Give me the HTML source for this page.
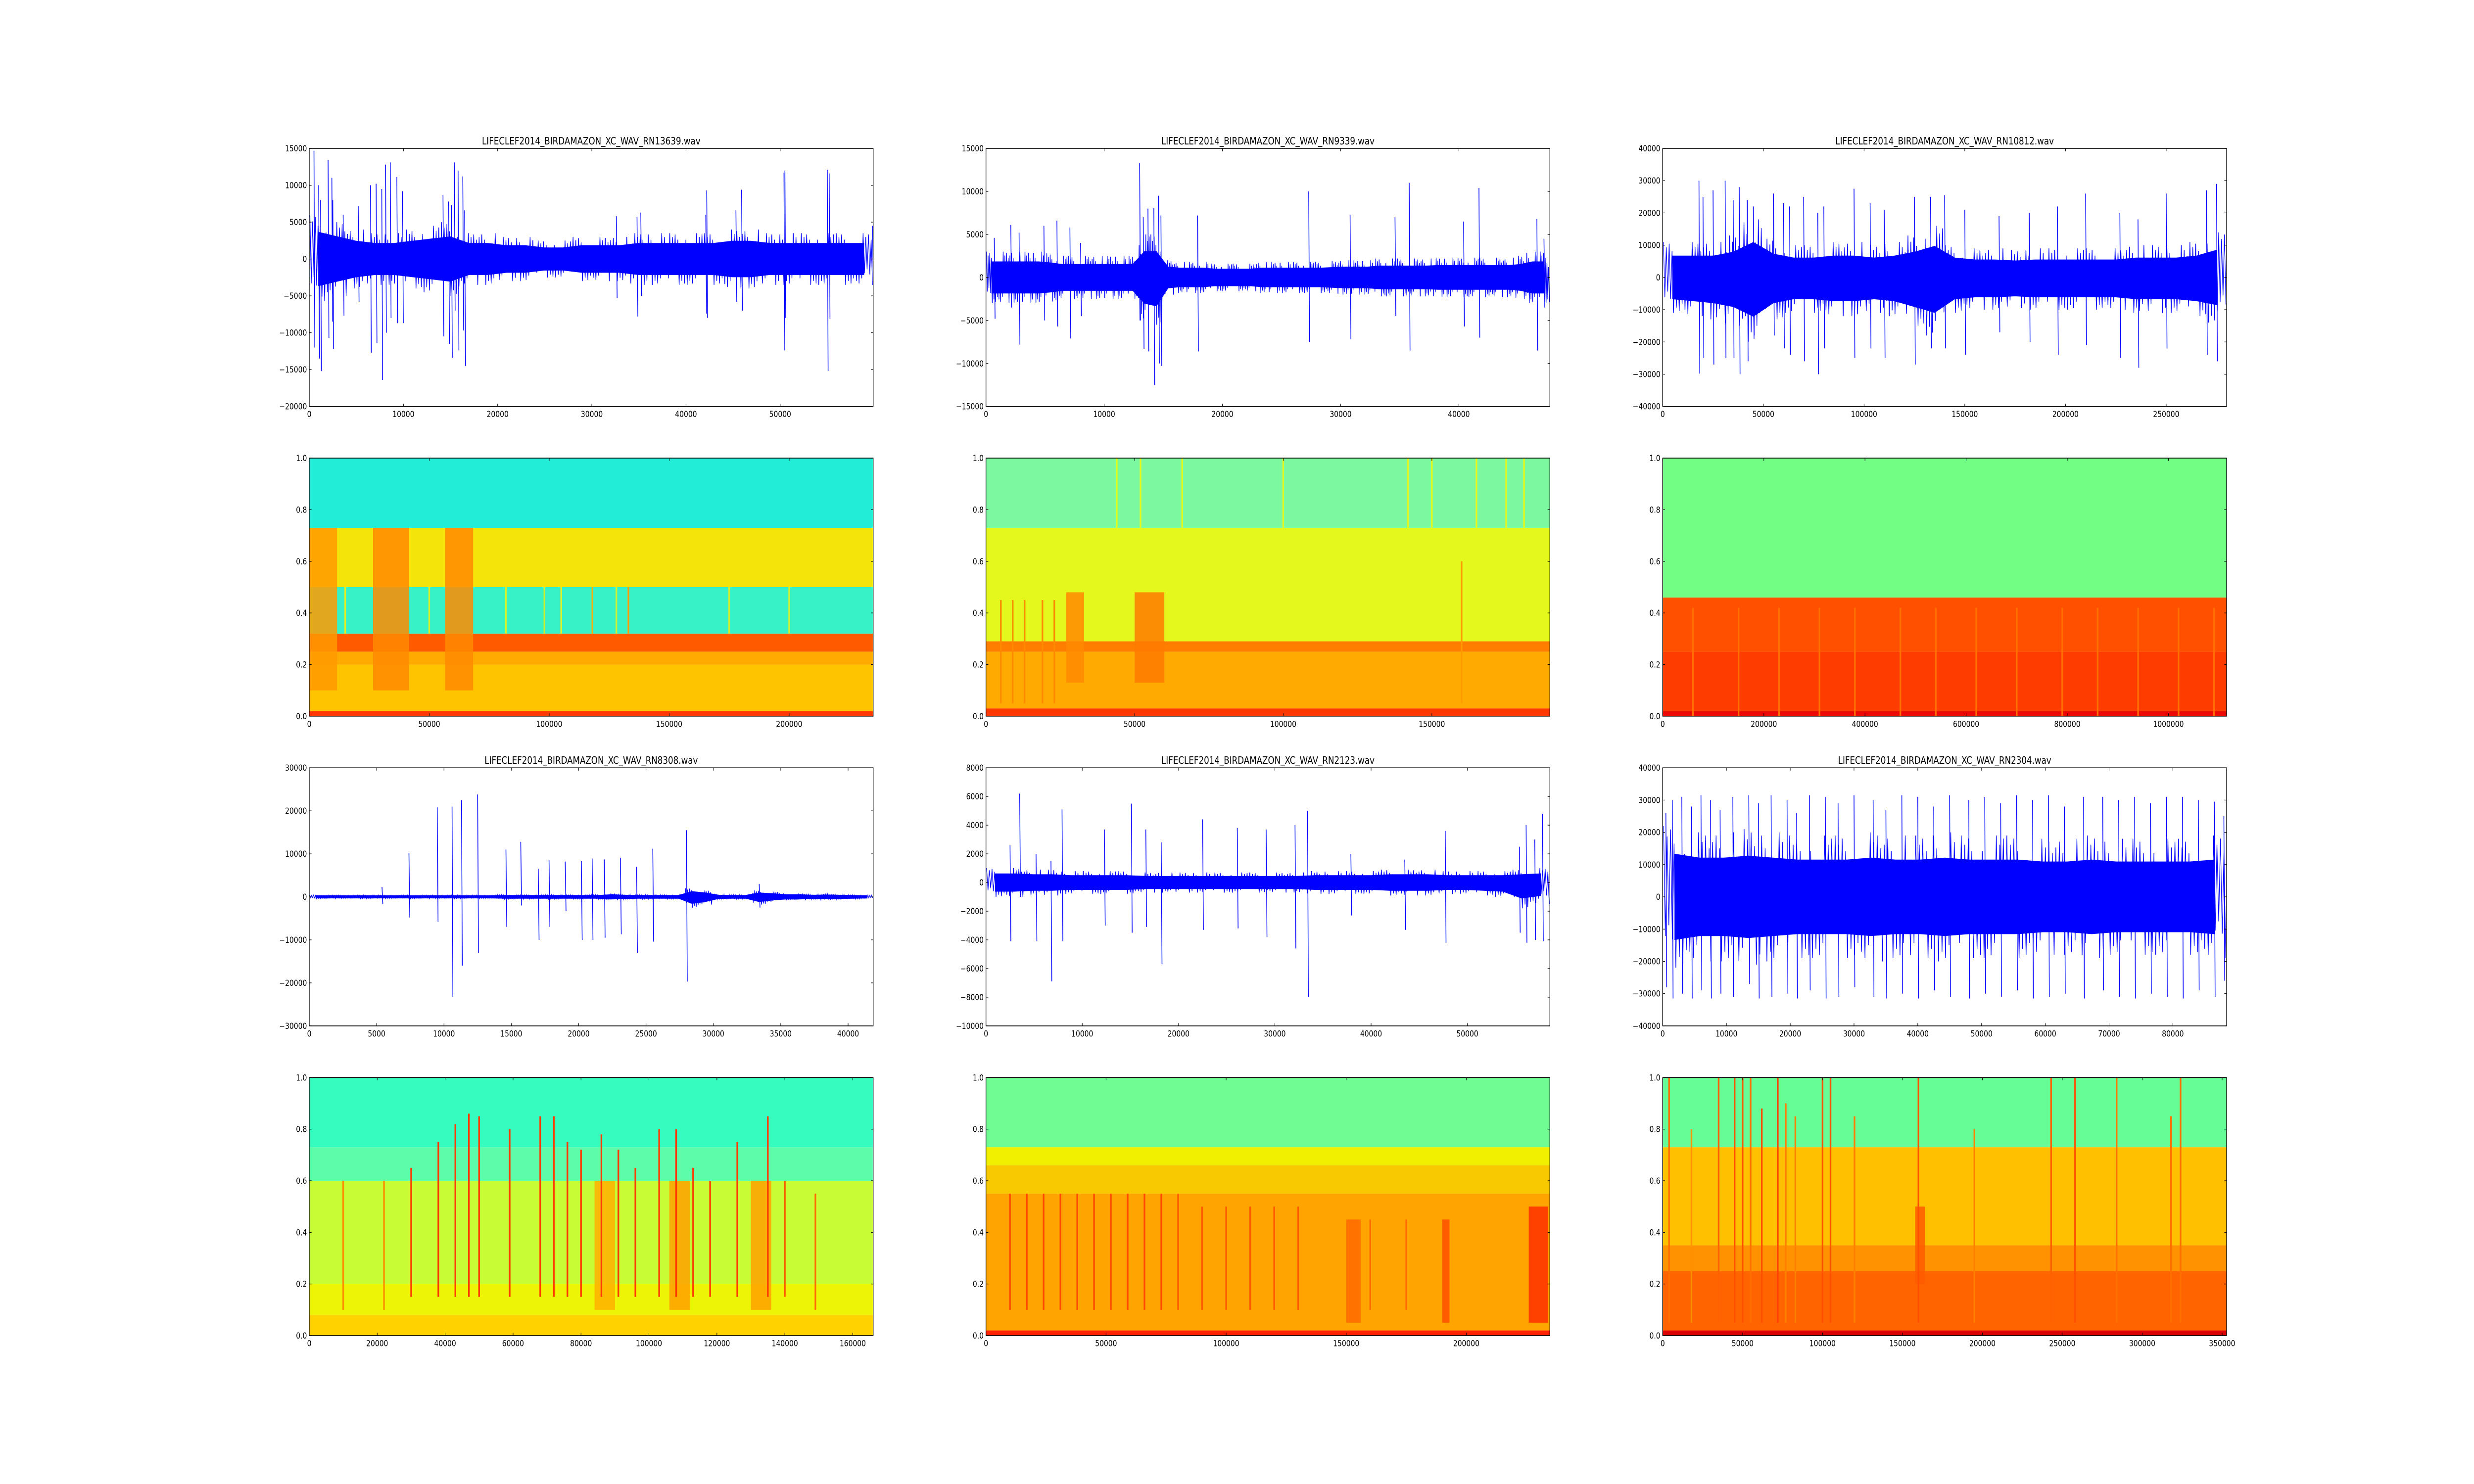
<!DOCTYPE html>
<html><head><meta charset="utf-8">
<style>
html,body{margin:0;padding:0;background:#fff;width:100%;height:100%;overflow:hidden;}
svg{display:block;position:absolute;left:0;top:0;width:100vw;height:100vh;font-family:"DejaVu Sans","Liberation Sans",sans-serif;}
</style></head>
<body>
<svg id="fig" viewBox="0 0 6000 3000" preserveAspectRatio="none" xmlns="http://www.w3.org/2000/svg">
<rect x="0" y="0" width="6000" height="3000" fill="#ffffff"/>
</svg>
<script>
// ---------- waveform data ----------
const p1Title = "LIFECLEF2014_BIRDAMAZON_XC_WAV_RN13639.wav";
const p1XMax = 59870, p1YMin = -20000, p1YMax = 15000;
const p1XTicks = [0,10000,20000,30000,40000,50000];
const p1YTicks = [-20000,-15000,-10000,-5000,0,5000,10000,15000];
const p1CoreHi = [6000,5000,4000,3500,3500,4000,4500,5000,3500,3500,3000,3000,2500,2500,3000,3000,3000,3500,3500,3500,3500,3500,4000,4000,3500,3500,3500,3500,3500,3500];
const p1CoreLo = [-6000,-5000,-4000,-3500,-3500,-4000,-4500,-5000,-3500,-3500,-3000,-3000,-2500,-2500,-3000,-3000,-3000,-3500,-3500,-3500,-3500,-3500,-4000,-4000,-3500,-3500,-3500,-3500,-3500,-3500];
const p1SpikeX = [500,1000,1200,2000,2400,2500,3600,5200,6500,7100,7700,8100,8600,9300,9900,14200,14800,15100,15400,15800,16300,16500,32600,34800,35200,42100,42200,45300,45900,50400,50500,55000,55200,59800];
const p1SpikeHi = [14700,10000,8000,13400,11000,8000,6000,7200,10000,10200,9500,12800,13100,11100,9200,8700,7800,7300,13100,12000,11200,6600,5800,5700,6300,6000,9300,6600,9400,11700,12000,12100,11600,4500];
const p1SpikeLo = [-12000,-13500,-15200,-10700,-8500,-12200,-7700,-5800,-12700,-11400,-16400,-10000,-8000,-8700,-8700,-10500,-11500,-13400,-7000,-12400,-9700,-14500,-5300,-7800,-5000,-7400,-8000,-5800,-7000,-12400,-8000,-15200,-8100,-4000];

const p2Title = "LIFECLEF2014_BIRDAMAZON_XC_WAV_RN9339.wav";
const p2XMax = 47700, p2YMin = -15000, p2YMax = 15000;
const p2XTicks = [0,10000,20000,30000,40000];
const p2YTicks = [-15000,-10000,-5000,0,5000,10000,15000];
const p2CoreHi = [3000,3000,3000,3000,3000,2800,2500,2500,2500,2500,2500,2500,2500,5000,5000,2000,1800,1800,1800,1600,1600,1600,1600,1800,1800,1800,1800,1800,1800,1900,2000,2000,2000,2200,2200,2200,2200,2200,2300,2300,2300,2300,2300,2300,2300,2500,3000,3000];
const p2CoreLo = [-3000,-3000,-3000,-3000,-3000,-2800,-2500,-2500,-2500,-2500,-2500,-2500,-2500,-5000,-5500,-2000,-1800,-1800,-1800,-1600,-1600,-1600,-1600,-1800,-1800,-1800,-1800,-1800,-1800,-1900,-2000,-2000,-2000,-2200,-2200,-2200,-2200,-2200,-2300,-2300,-2300,-2300,-2300,-2300,-2300,-2500,-3000,-3000];
const p2SpikeX = [700,2100,2800,4900,6000,7100,8000,13000,13300,13700,14200,14600,14800,17900,27300,30800,34600,35800,40400,41700,46600,47200];
const p2SpikeHi = [4600,6100,5200,6000,6600,5800,4000,13300,7000,8000,8100,9500,7200,7200,10000,7300,7000,11000,6500,10400,6800,4500];
const p2SpikeLo = [-4800,-3500,-7800,-5000,-5700,-7100,-4500,-5000,-8300,-8600,-12500,-10000,-10300,-8600,-7500,-7200,-4500,-8500,-5700,-7000,-8500,-3500];

const p3Title = "LIFECLEF2014_BIRDAMAZON_XC_WAV_RN10812.wav";
const p3XMax = 280000, p3YMin = -40000, p3YMax = 40000;
const p3XTicks = [0,50000,100000,150000,200000,250000];
const p3YTicks = [-40000,-30000,-20000,-10000,0,10000,20000,30000,40000];
const p3CoreHi = [11000,11000,11000,13000,18000,12000,10000,10000,11000,11000,10000,11000,13000,16000,10000,9000,9000,8500,9000,9000,9000,9000,9000,10000,10000,10000,11000,14000];
const p3CoreLo = [-11000,-12000,-13000,-15000,-20000,-13000,-11000,-11000,-12000,-12000,-11000,-12000,-15000,-18000,-11000,-10000,-10000,-9500,-10000,-10000,-10000,-10000,-10000,-11000,-11000,-11000,-12000,-14000];
const p3SpikeX = [18000,20000,25000,31000,35000,38000,42000,45000,55000,60000,63000,70000,77000,80000,95000,103000,110000,125000,133000,140000,150000,167000,182000,196000,210000,227000,236000,250000,270000,275000];
const p3SpikeHi = [30000,25000,27000,30000,24000,28000,24000,22000,26000,23000,22000,25000,20000,22000,27500,23000,21000,25000,25000,25500,21000,19000,20000,22000,26000,20000,18000,26000,27000,29000];
const p3SpikeLo = [-29800,-25000,-27000,-25000,-25000,-30000,-26000,-18000,-18000,-22000,-24000,-26000,-30000,-22000,-25000,-22000,-25000,-27000,-22000,-22000,-24000,-17000,-20000,-24000,-21000,-25000,-28000,-22000,-24000,-26000];

const p4Title = "LIFECLEF2014_BIRDAMAZON_XC_WAV_RN8308.wav";
const p4XMax = 41860, p4YMin = -30000, p4YMax = 30000;
const p4XTicks = [0,5000,10000,15000,20000,25000,30000,35000,40000];
const p4YTicks = [-30000,-20000,-10000,0,10000,20000,30000];
const p4CoreHi = [400,400,400,400,400,400,400,400,400,400,400,400,400,400,500,500,500,500,500,500,500,500,800,600,500,500,500,500,2000,1500,600,500,500,1500,1200,800,800,600,700,600,500,400];
const p4CoreLo = [-400,-400,-400,-400,-400,-400,-400,-400,-400,-400,-400,-400,-400,-400,-500,-500,-500,-500,-500,-500,-500,-500,-800,-600,-500,-500,-500,-500,-2500,-1800,-600,-500,-500,-1800,-1200,-800,-800,-600,-700,-600,-500,-400];
const p4SpikeX = [5400,7400,9500,10600,11300,12500,14600,15700,17000,17800,19000,20200,21000,21900,23100,24300,25500,28000,33400];
const p4SpikeHi = [2300,10200,20800,21000,22500,23800,11000,12800,6500,8500,8200,8300,8900,8700,9100,7000,11200,15500,3000];
const p4SpikeLo = [-1700,-4800,-5800,-23300,-16000,-13000,-7000,-2000,-10000,-7000,-3300,-10000,-10000,-9500,-8700,-13000,-10400,-19700,-2500];

const p5Title = "LIFECLEF2014_BIRDAMAZON_XC_WAV_RN2123.wav";
const p5XMax = 58570, p5YMin = -10000, p5YMax = 8000;
const p5XTicks = [0,10000,20000,30000,40000,50000];
const p5YTicks = [-10000,-8000,-6000,-4000,-2000,0,2000,4000,6000,8000];
const p5CoreHi = [1000,1000,900,900,800,800,800,800,700,700,700,700,700,700,700,700,700,800,800,800,800,900,900,900,800,800,800,800,900,1000];
const p5CoreLo = [-1000,-1000,-900,-900,-800,-800,-800,-800,-700,-700,-700,-700,-700,-700,-700,-700,-700,-800,-800,-800,-800,-900,-900,-900,-800,-800,-900,-1000,-1800,-1500];
const p5SpikeX = [2500,3500,5200,6750,7900,12300,15100,16600,18200,22500,26100,29100,32100,33400,37900,43500,47700,55400,56100,57000,57800];
const p5SpikeHi = [2600,6200,2000,1500,5100,3700,5500,3700,2800,4400,3800,3700,4000,5000,2000,1600,3600,2500,4000,3000,4800];
const p5SpikeLo = [-4100,-1000,-4100,-6900,-4100,-3000,-3500,-3100,-5700,-3300,-3200,-3800,-4600,-8000,-2300,-3300,-4200,-3500,-4200,-4000,-4100];

const p6Title = "LIFECLEF2014_BIRDAMAZON_XC_WAV_RN2304.wav";
const p6XMax = 88430, p6YMin = -40000, p6YMax = 40000;
const p6XTicks = [0,10000,20000,30000,40000,50000,60000,70000,80000];
const p6YTicks = [-40000,-30000,-20000,-10000,0,10000,20000,30000,40000];
const p6CoreHi = [22000,20000,20000,21000,20000,19000,19000,19000,20000,19000,19000,20000,19000,19000,19000,18000,18000,19000,18000,18000,18000,18000,19000];
const p6CoreLo = [-22000,-20000,-20000,-21000,-20000,-19000,-19000,-19000,-20000,-19000,-19000,-20000,-19000,-19000,-19000,-18000,-18000,-19000,-18000,-18000,-18000,-18000,-19000];
const p6SpikeX = [500,1500,3000,4500,6000,7500,9000,11000,13500,15000,17000,19500,21000,23000,25500,27500,30000,33000,35000,37500,40000,42500,45000,48000,50500,53000,55500,58000,60500,63000,66000,69000,71500,74000,76500,79000,81500,84000,86500,88000];
const p6SpikeHi = [26000,30000,31000,28000,31500,30000,27000,31000,31500,29000,31500,30000,26000,31500,31000,29000,31500,30000,27000,31500,31000,28000,31500,30000,31000,29000,31500,30000,31500,28000,31000,31000,30000,31000,29000,31000,31000,30000,29500,25000];
const p6SpikeLo = [-28000,-31500,-30000,-31500,-29000,-31500,-30000,-31000,-27000,-31500,-31000,-30000,-31500,-29000,-31500,-31000,-28000,-31000,-31500,-30000,-31500,-29000,-31000,-31500,-30000,-31000,-29000,-31500,-31000,-30000,-31500,-29000,-31000,-31500,-30000,-31000,-31500,-29000,-31000,-26000];

// ---------- spectrogram data ----------
const sYTicks = [0.0,0.2,0.4,0.6,0.8,1.0];
const s1XMax = 235000, s1XTicks = [0,50000,100000,150000,200000];
const s1BandLo = [0.0,0.02,0.2,0.25,0.32,0.5,0.73];
const s1BandHi = [0.02,0.2,0.25,0.32,0.5,0.73,1.0];
const s1BandColor = ["#ff3a00","#ffc400","#ffaa00","#ff5a00","#36f2c6","#f4e40a","#22eed8"];
const s1BlockX0 = [0,26600,56600], s1BlockX1 = [11600,41600,68300];
const s1BlockY0 = [0.1,0.1,0.1], s1BlockY1 = [0.73,0.73,0.73];
const s1BlockColor = ["#ff9a00","#ff8a00","#ff8a00"];
const s1StreakX = [15000,50000,82000,98000,105000,118000,128000,133000,175000,200000];
const s1StreakY0 = [0.32,0.32,0.32,0.32,0.32,0.32,0.32,0.32,0.32,0.32];
const s1StreakY1 = [0.5,0.5,0.5,0.5,0.5,0.5,0.5,0.5,0.5,0.5];
const s1StreakColor = ["#e8f020","#d0f030","#d0f030","#d0f030","#e8f020","#ffb000","#d0f030","#ff9a00","#d0f030","#d0f030"];

const s2XMax = 189700, s2XTicks = [0,50000,100000,150000];
const s2BandLo = [0.0,0.03,0.25,0.29,0.73];
const s2BandHi = [0.03,0.25,0.29,0.73,1.0];
const s2BandColor = ["#ff3a00","#ffaa00","#ff7e00","#e4f81e","#7cf8a0"];
const s2BlockX0 = [27000,50000], s2BlockX1 = [33000,60000];
const s2BlockY0 = [0.13,0.13], s2BlockY1 = [0.48,0.48];
const s2BlockColor = ["#ff8a00","#ff7a00"];
const s2StreakX = [5000,9000,13000,19000,23000,44000,52000,66000,100000,142000,150000,160000,165000,175000,181000];
const s2StreakY0 = [0.05,0.05,0.05,0.05,0.05,0.73,0.73,0.73,0.73,0.73,0.73,0.05,0.73,0.73,0.73];
const s2StreakY1 = [0.45,0.45,0.45,0.45,0.45,1.0,1.0,1.0,1.0,1.0,1.0,0.6,1.0,1.0,1.0];
const s2StreakColor = ["#ff8a00","#ff8a00","#ff8a00","#ff8a00","#ff8a00","#e4f81e","#e4f81e","#e4f81e","#e4f81e","#e4f81e","#e4f81e","#ff9a00","#e4f81e","#e4f81e","#e4f81e"];

const s3XMax = 1115000, s3XTicks = [0,200000,400000,600000,800000,1000000];
const s3BandLo = [0.0,0.02,0.25,0.46];
const s3BandHi = [0.02,0.25,0.46,1.0];
const s3BandColor = ["#e80a00","#ff3c00","#ff5000","#72fe84"];
const s3BlockX0 = [], s3BlockX1 = [], s3BlockY0 = [], s3BlockY1 = [], s3BlockColor = [];
const s3StreakX = [60000,150000,230000,310000,380000,470000,540000,620000,700000,790000,860000,940000,1020000,1090000];
const s3StreakY0 = [0.0,0.0,0.0,0.0,0.0,0.0,0.0,0.0,0.0,0.0,0.0,0.0,0.0,0.0];
const s3StreakY1 = [0.42,0.42,0.42,0.42,0.42,0.42,0.42,0.42,0.42,0.42,0.42,0.42,0.42,0.42];
const s3StreakColor = ["#ff7000","#ff7000","#ff7000","#ff7000","#ff7000","#ff7000","#ff7000","#ff7000","#ff7000","#ff7000","#ff7000","#ff7000","#ff7000","#ff7000"];

const s4XMax = 166000, s4XTicks = [0,20000,40000,60000,80000,100000,120000,140000,160000];
const s4BandLo = [0.0,0.08,0.2,0.6,0.73];
const s4BandHi = [0.08,0.2,0.6,0.73,1.0];
const s4BandColor = ["#ffd200","#eef406","#c8fc34","#5cfcaa","#36fcc0"];
const s4BlockX0 = [84000,106000,130000], s4BlockX1 = [90000,112000,136000];
const s4BlockY0 = [0.1,0.1,0.1], s4BlockY1 = [0.6,0.6,0.6];
const s4BlockColor = ["#ffb000","#ffa000","#ffa000"];
const s4StreakX = [10000,22000,30000,38000,43000,47000,50000,59000,68000,72000,76000,80000,86000,91000,96000,103000,108000,113000,118000,126000,135000,140000,149000];
const s4StreakY0 = [0.1,0.1,0.15,0.15,0.15,0.15,0.15,0.15,0.15,0.15,0.15,0.15,0.15,0.15,0.15,0.15,0.15,0.15,0.15,0.15,0.15,0.15,0.1];
const s4StreakY1 = [0.6,0.6,0.65,0.75,0.82,0.86,0.85,0.8,0.85,0.85,0.75,0.72,0.78,0.72,0.65,0.8,0.8,0.65,0.6,0.75,0.85,0.6,0.55];
const s4StreakColor = ["#ff9000","#ff9000","#ff3a00","#ff3a00","#ff3a00","#ff3a00","#ff3a00","#ff3a00","#ff3a00","#ff3a00","#ff3a00","#ff3a00","#ff3a00","#ff3a00","#ff3a00","#ff3a00","#ff3a00","#ff3a00","#ff3a00","#ff3a00","#ff3a00","#ff5a00","#ff7000"];

const s5XMax = 234800, s5XTicks = [0,50000,100000,150000,200000];
const s5BandLo = [0.0,0.02,0.55,0.66,0.73];
const s5BandHi = [0.02,0.55,0.66,0.73,1.0];
const s5BandColor = ["#ff2200","#ffa400","#f8c800","#f0f000","#70fc92"];
const s5BlockX0 = [150000,190000,226000], s5BlockX1 = [156000,193000,234000];
const s5BlockY0 = [0.05,0.05,0.05], s5BlockY1 = [0.45,0.45,0.5];
const s5BlockColor = ["#ff6a00","#ff5000","#ff3000"];
const s5StreakX = [10000,17000,24000,31000,38000,45000,52000,59000,66000,73000,80000,90000,100000,110000,120000,130000,160000,175000];
const s5StreakY0 = [0.1,0.1,0.1,0.1,0.1,0.1,0.1,0.1,0.1,0.1,0.1,0.1,0.1,0.1,0.1,0.1,0.1,0.1];
const s5StreakY1 = [0.55,0.55,0.55,0.55,0.55,0.55,0.55,0.55,0.55,0.55,0.55,0.5,0.5,0.5,0.5,0.5,0.45,0.45];
const s5StreakColor = ["#ff4a00","#ff4a00","#ff4a00","#ff4a00","#ff4a00","#ff4a00","#ff4a00","#ff4a00","#ff4a00","#ff4a00","#ff5a00","#ff5a00","#ff5a00","#ff5a00","#ff5a00","#ff5a00","#ff6a00","#ff6a00"];

const s6XMax = 352800, s6XTicks = [0,50000,100000,150000,200000,250000,300000,350000];
const s6BandLo = [0.0,0.02,0.25,0.35,0.73];
const s6BandHi = [0.02,0.25,0.35,0.73,1.0];
const s6BandColor = ["#d80000","#ff6400","#ff9200","#ffc000","#66fc96"];
const s6BlockX0 = [158000], s6BlockX1 = [164000];
const s6BlockY0 = [0.2], s6BlockY1 = [0.5];
const s6BlockColor = ["#ff5a00"];
const s6StreakX = [4000,18000,35000,45000,50000,55000,62000,72000,77000,83000,100000,105000,120000,160000,195000,243000,258000,284000,318000,324000];
const s6StreakY0 = [0.05,0.05,0.05,0.05,0.05,0.05,0.05,0.05,0.05,0.05,0.05,0.05,0.05,0.05,0.05,0.05,0.05,0.05,0.05,0.05];
const s6StreakY1 = [1.0,0.8,1.0,1.0,1.0,1.0,0.88,1.0,0.9,0.85,1.0,1.0,0.85,1.0,0.8,1.0,1.0,1.0,0.85,1.0];
const s6StreakColor = ["#ff7000","#ff9000","#ff6000","#ff5000","#ff5000","#ff7000","#ff5000","#ff4000","#ff8000","#ff8000","#ff5000","#ff5000","#ff8000","#ff5000","#ff8000","#ff6000","#ff5000","#ff7000","#ff7000","#ff7000"];

// ---------- layout ----------
const NS = "http://www.w3.org/2000/svg";
const svg = document.getElementById('fig');
const AX_W = 1367.6, AX_H = 521.7;
const colLeft = [750, 2391.2, 4032.4];
const rowTop = [300, 926.1, 1552.2, 2178.3];
const FS = 16.7;

function mk(tag, attrs, parent) {
  const e = document.createElementNS(NS, tag);
  for (const k in attrs) e.setAttribute(k, attrs[k]);
  (parent || svg).appendChild(e);
  return e;
}
function fmt(v) {
  let s = (Math.abs(v) < 1e-9) ? "0" : String(v);
  if (v < 0) s = "\u2212" + String(-v);
  return s;
}
function fmt1(v){ return v.toFixed(1); }

function makeAxes(col, row, xMax, yMin, yMax, name) {
  const L = colLeft[col], T = rowTop[row];
  const g = mk('g', {});
  
  
  const sx = v => L + v / xMax * AX_W;
  const sy = v => T + (yMax - v) / (yMax - yMin) * AX_H;
  const clipId = 'clip-' + name;
  const cp = mk('clipPath', {id: clipId}, g);
  mk('rect', {x: L, y: T, width: AX_W, height: AX_H}, cp);
  const plot = mk('g', {'clip-path': 'url(#' + clipId + ')'}, g);
  
  
  return {L, T, sx, sy, g, plot, xMax, yMin, yMax};
}

function finishAxes(ax, xTicks, yTicks, yFmt, title) {
  const {L, T, sx, sy, g} = ax;
  const tl = 5.6;
  const tg = mk('g', {stroke: '#000', 'stroke-width': 1.2}, g);
  
  
  const xl = mk('g', {'font-size': FS, 'text-anchor': 'middle', fill: '#000'}, g);
  
  
  xTicks.forEach(v => {
    const x = sx(v);
    mk('line', {x1: x, y1: T + AX_H, x2: x, y2: T + AX_H - tl}, tg);
    mk('line', {x1: x, y1: T, x2: x, y2: T + tl}, tg);
    const t = mk('text', {x: x, y: T + AX_H + 5.6 + FS * 0.95}, xl);
    
    
    t.textContent = fmt(v);
  });
  const yl = mk('g', {'font-size': FS, 'text-anchor': 'end', fill: '#000'}, g);
  
  
  yTicks.forEach(v => {
    const y = sy(v);
    mk('line', {x1: L, y1: y, x2: L + tl, y2: y}, tg);
    mk('line', {x1: L + AX_W, y1: y, x2: L + AX_W - tl, y2: y}, tg);
    const t = mk('text', {x: L - 5.6, y: y + FS * 0.36}, yl);
    
    
    t.textContent = yFmt(v);
  });
  const fr = mk('rect', {x: L, y: T, width: AX_W, height: AX_H, fill: 'none', stroke: '#000', 'stroke-width': 1.6}, g);
  
  
  if (title) {
    const tt = mk('text', {x: L + AX_W / 2, y: T - 8, 'font-size': FS * 1.2, 'text-anchor': 'middle', fill: '#000'}, g);
    
    
    tt.textContent = title;
  }
}

function drawWave(col, row, name, title, xMax, yMin, yMax, xTicks, yTicks, coreHi, coreLo, spX, spHi, spLo) {
  const ax = makeAxes(col, row, xMax, yMin, yMax, name);
  const n = coreHi.length, bw = xMax / n;
  const sub = 14;
  const amp = [1, 0.55, 0.85, 0.4, 0.95, 0.6, 0.75];
  let pts = [];
  for (let i = 0; i < n; i++) {
    for (let k = 0; k < sub; k++) {
      const v = (k % 2 === 0 ? coreHi[i] : coreLo[i]) * amp[(i + k) % amp.length];
      pts.push(ax.sx(i * bw + (k + 0.5) * bw / sub).toFixed(1) + ',' + ax.sy(v).toFixed(1));
    }
  }
  let env = [];
  for (let i = 0; i < n; i++) env.push(ax.sx((i + 0.5) * bw).toFixed(1) + ',' + ax.sy(coreHi[i] * 0.6).toFixed(1));
  for (let i = n - 1; i >= 0; i--) env.push(ax.sx((i + 0.5) * bw).toFixed(1) + ',' + ax.sy(coreLo[i] * 0.6).toFixed(1));
  const envP = mk('polygon', {points: env.join(' '), fill: '#0000ff', stroke: '#0000ff', 'stroke-width': 2}, ax.plot);
  
  
  const line = mk('polyline', {points: pts.join(' '), fill: 'none', stroke: '#0000ff', 'stroke-width': 1.5}, ax.plot);
  
  
  for (let i = 0; i < spX.length; i++) {
    const x = ax.sx(spX[i]);
    const s = mk('line', {x1: x, y1: ax.sy(spHi[i]), x2: x + 2, y2: ax.sy(spLo[i]), stroke: '#0000ff', 'stroke-width': 1.8}, ax.plot);
    
    
  }
  finishAxes(ax, xTicks, yTicks, fmt, title);
}

function drawSpec(col, row, name, xMax, xTicks, bLo, bHi, bCol, kX0, kX1, kY0, kY1, kCol, stX, stY0, stY1, stCol) {
  const ax = makeAxes(col, row, xMax, 0, 1, name);
  for (let i = 0; i < bLo.length; i++) {
    const r = mk('rect', {x: ax.L, y: ax.sy(bHi[i]), width: AX_W, height: ax.sy(bLo[i]) - ax.sy(bHi[i]), fill: bCol[i]}, ax.plot);
    
    
  }
  for (let i = 0; i < kX0.length; i++) {
    const r = mk('rect', {x: ax.sx(kX0[i]), y: ax.sy(kY1[i]), width: ax.sx(kX1[i]) - ax.sx(kX0[i]), height: ax.sy(kY0[i]) - ax.sy(kY1[i]), fill: kCol[i], opacity: 0.85}, ax.plot);
    
    
  }
  for (let i = 0; i < stX.length; i++) {
    const r = mk('rect', {x: ax.sx(stX[i]) - 2, y: ax.sy(stY1[i]), width: 4, height: ax.sy(stY0[i]) - ax.sy(stY1[i]), fill: stCol[i]}, ax.plot);
    
    
  }
  finishAxes(ax, xTicks, sYTicks, fmt1, null);
}

drawWave(0,0,'waveform-rn13639',p1Title,p1XMax,p1YMin,p1YMax,p1XTicks,p1YTicks,p1CoreHi,p1CoreLo,p1SpikeX,p1SpikeHi,p1SpikeLo);
drawWave(1,0,'waveform-rn9339',p2Title,p2XMax,p2YMin,p2YMax,p2XTicks,p2YTicks,p2CoreHi,p2CoreLo,p2SpikeX,p2SpikeHi,p2SpikeLo);
drawWave(2,0,'waveform-rn10812',p3Title,p3XMax,p3YMin,p3YMax,p3XTicks,p3YTicks,p3CoreHi,p3CoreLo,p3SpikeX,p3SpikeHi,p3SpikeLo);
drawSpec(0,1,'spectrogram-rn13639',s1XMax,s1XTicks,s1BandLo,s1BandHi,s1BandColor,s1BlockX0,s1BlockX1,s1BlockY0,s1BlockY1,s1BlockColor,s1StreakX,s1StreakY0,s1StreakY1,s1StreakColor);
drawSpec(1,1,'spectrogram-rn9339',s2XMax,s2XTicks,s2BandLo,s2BandHi,s2BandColor,s2BlockX0,s2BlockX1,s2BlockY0,s2BlockY1,s2BlockColor,s2StreakX,s2StreakY0,s2StreakY1,s2StreakColor);
drawSpec(2,1,'spectrogram-rn10812',s3XMax,s3XTicks,s3BandLo,s3BandHi,s3BandColor,s3BlockX0,s3BlockX1,s3BlockY0,s3BlockY1,s3BlockColor,s3StreakX,s3StreakY0,s3StreakY1,s3StreakColor);
drawWave(0,2,'waveform-rn8308',p4Title,p4XMax,p4YMin,p4YMax,p4XTicks,p4YTicks,p4CoreHi,p4CoreLo,p4SpikeX,p4SpikeHi,p4SpikeLo);
drawWave(1,2,'waveform-rn2123',p5Title,p5XMax,p5YMin,p5YMax,p5XTicks,p5YTicks,p5CoreHi,p5CoreLo,p5SpikeX,p5SpikeHi,p5SpikeLo);
drawWave(2,2,'waveform-rn2304',p6Title,p6XMax,p6YMin,p6YMax,p6XTicks,p6YTicks,p6CoreHi,p6CoreLo,p6SpikeX,p6SpikeHi,p6SpikeLo);
drawSpec(0,3,'spectrogram-rn8308',s4XMax,s4XTicks,s4BandLo,s4BandHi,s4BandColor,s4BlockX0,s4BlockX1,s4BlockY0,s4BlockY1,s4BlockColor,s4StreakX,s4StreakY0,s4StreakY1,s4StreakColor);
drawSpec(1,3,'spectrogram-rn2123',s5XMax,s5XTicks,s5BandLo,s5BandHi,s5BandColor,s5BlockX0,s5BlockX1,s5BlockY0,s5BlockY1,s5BlockColor,s5StreakX,s5StreakY0,s5StreakY1,s5StreakColor);
drawSpec(2,3,'spectrogram-rn2304',s6XMax,s6XTicks,s6BandLo,s6BandHi,s6BandColor,s6BlockX0,s6BlockX1,s6BlockY0,s6BlockY1,s6BlockColor,s6StreakX,s6StreakY0,s6StreakY1,s6StreakColor);
</script>
</body></html>
